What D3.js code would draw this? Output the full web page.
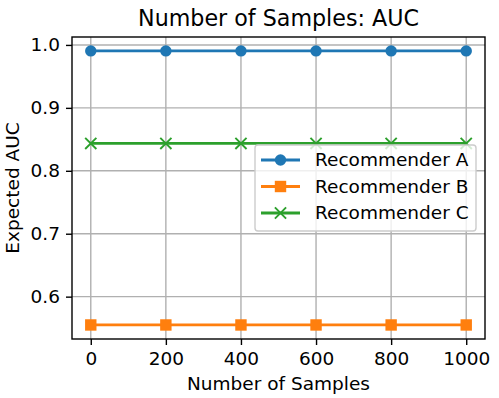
<!DOCTYPE html>
<html>
<head>
<meta charset="utf-8">
<script src="https://cdn.jsdelivr.net/npm/d3@7"></script>
<style>
body{margin:0;background:#fff}
text{font-family:"DejaVu Sans",sans-serif;fill:#000}
</style>
</head>
<body>
<svg id="chart" width="499" height="398"></svg>
<script>
// data
let samples=[0,200,400,600,800,1000]
let recA=[0.9905,0.9905,0.9905,0.9905,0.9905,0.9905]
let recB=[0.555,0.555,0.555,0.555,0.555,0.555]
let recC=[0.8435,0.8435,0.8435,0.8435,0.8435,0.8435]
let seriesNames=["Recommender A","Recommender B","Recommender C"]
let xTicks=[0,200,400,600,800,1000]
let yTicks=[0.6,0.7,0.8,0.9,1.0]

let svg=d3.select("#chart")
let pLeft=72,pRight=485,pTop=37,pBottom=339
let fs=18.5

let x=d3.scaleLinear().domain([-50,1050]).range([pLeft,pRight])
let y=d3.scaleLinear().domain([0.5327,1.0126]).range([pBottom,pTop])

let series=[
	{name:seriesNames[0],vals:recA,color:"#1f77b4",marker:"circle"},
	{name:seriesNames[1],vals:recB,color:"#ff7f0e",marker:"square"},
	{name:seriesNames[2],vals:recC,color:"#2ca02c",marker:"x"}
]

// grid
svg.append("g").selectAll("line").data(xTicks).enter().append("line")
	.attr("x1",d=>x(d)).attr("x2",d=>x(d)).attr("y1",pTop).attr("y2",pBottom)
	.attr("stroke","#b0b0b0").attr("stroke-width",1.4)
svg.append("g").selectAll("line").data(yTicks).enter().append("line")
	.attr("y1",d=>y(d)).attr("y2",d=>y(d)).attr("x1",pLeft).attr("x2",pRight)
	.attr("stroke","#b0b0b0").attr("stroke-width",1.4)

function drawMarker(g,type,color,cx,cy){
	if(type=="circle"){
		g.append("circle").attr("cx",cx).attr("cy",cy).attr("r",5.7).attr("fill",color)
	}else if(type=="square"){
		g.append("rect").attr("x",cx-5.7).attr("y",cy-5.7).attr("width",11.4).attr("height",11.4).attr("fill",color)
	}else{
		let s=5.6
		g.append("path").attr("d",`M${cx-s},${cy-s}L${cx+s},${cy+s}M${cx-s},${cy+s}L${cx+s},${cy-s}`)
			.attr("stroke",color).attr("stroke-width",1.9).attr("fill","none")
	}
}

let line=d3.line().x((d,i)=>x(samples[i])).y(d=>y(d))
series.forEach(s=>{
	let g=svg.append("g")
	g.append("path").attr("d",line(s.vals)).attr("fill","none")
		.attr("stroke",s.color).attr("stroke-width",2.8)
	s.vals.forEach((v,i)=>drawMarker(g,s.marker,s.color,x(samples[i]),y(v)))
})

// axes
let xAxis=svg.append("g").attr("transform",`translate(0,${pBottom})`)
	.call(d3.axisBottom(x).tickValues(xTicks).tickSize(6).tickPadding(7).tickFormat(d3.format("d")))
let yAxis=svg.append("g").attr("transform",`translate(${pLeft},0)`)
	.call(d3.axisLeft(y).tickValues(yTicks).tickSize(6).tickPadding(6).tickFormat(d3.format(".1f")))
;[xAxis,yAxis].forEach(a=>{
	a.select(".domain").remove()
	a.selectAll("line").attr("stroke","#000").attr("stroke-width",1.4)
	a.selectAll("text").attr("font-family","DejaVu Sans").attr("font-size",fs).attr("fill","#000")
})

// frame
svg.append("rect").attr("x",pLeft).attr("y",pTop).attr("width",pRight-pLeft).attr("height",pBottom-pTop)
	.attr("fill","none").attr("stroke","#000").attr("stroke-width",1.4)

// labels
svg.append("text").attr("x",(pLeft+pRight)/2).attr("y",26).attr("text-anchor","middle")
	.attr("font-size",22.2).text("Number of Samples: AUC")
svg.append("text").attr("x",(pLeft+pRight)/2).attr("y",390).attr("text-anchor","middle")
	.attr("font-size",fs).text("Number of Samples")
svg.append("text").attr("transform",`translate(19,${(pTop+pBottom)/2}) rotate(-90)`)
	.attr("text-anchor","middle").attr("font-size",fs).text("Expected AUC")

// legend
let lg=svg.append("g")
lg.append("rect").attr("x",255).attr("y",145).attr("width",221).attr("height",86).attr("rx",3)
	.attr("fill","#fff").attr("fill-opacity",0.8).attr("stroke","#cccccc").attr("stroke-width",1.4)
series.forEach((s,i)=>{
	let ly=160+i*26.5
	lg.append("line").attr("x1",261).attr("x2",300).attr("y1",ly).attr("y2",ly)
		.attr("stroke",s.color).attr("stroke-width",2.8)
	drawMarker(lg,s.marker,s.color,280.5,ly)
	lg.append("text").attr("x",315).attr("y",ly).attr("dy","0.35em").attr("font-size",fs).text(s.name)
})
</script>
</body>
</html>
